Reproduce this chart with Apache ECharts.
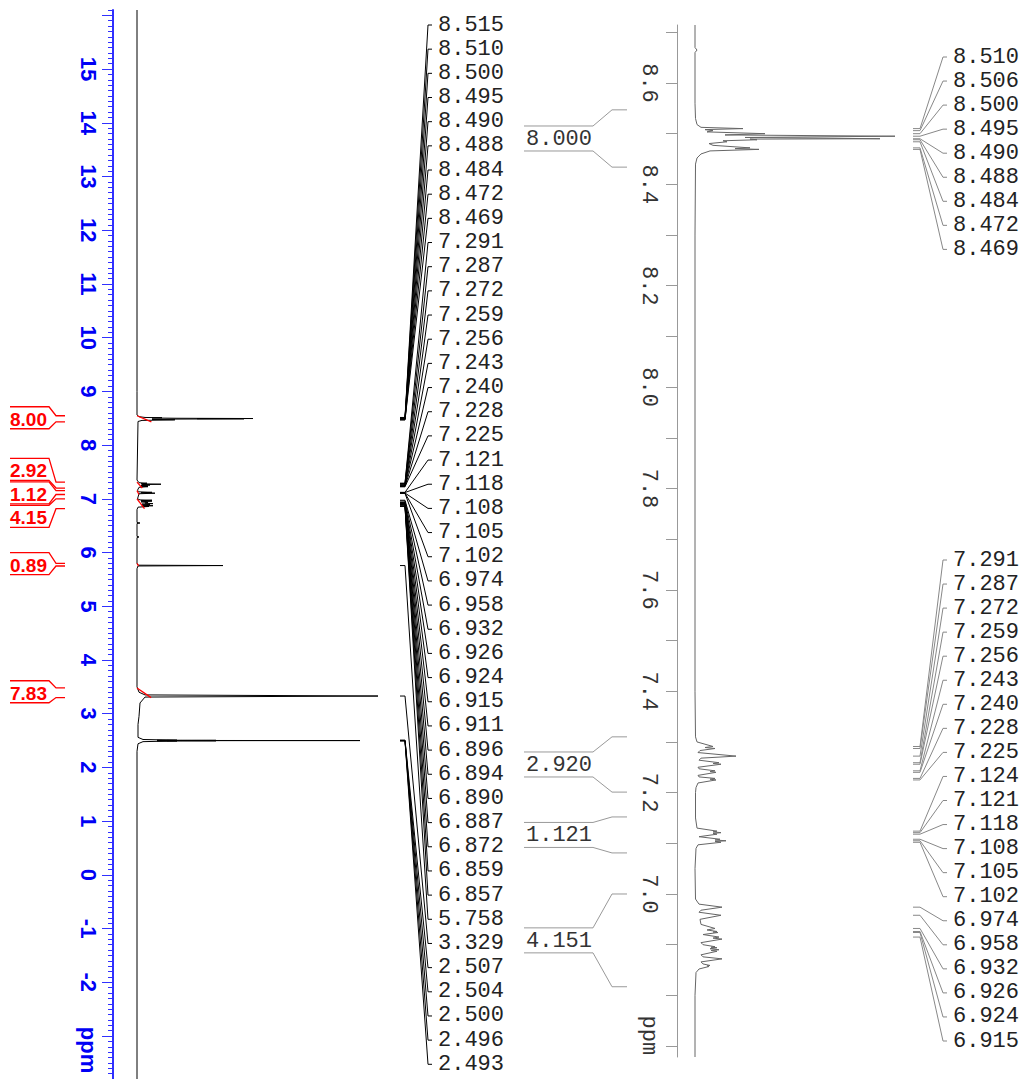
<!DOCTYPE html>
<html>
<head>
<meta charset="utf-8">
<title>1H NMR</title>
<script src="https://cdn.jsdelivr.net/npm/echarts@6/dist/echarts.min.js"></script>
<style>
    html, body { margin: 0; padding: 0; background: #fff; }
    #chart { width: 1025px; height: 1079px; }
</style>
</head>
<body>
<div id="chart"></div>
<script>
// full spectrum trace, ppm / intensity
var fullPpm = [16.1, 9.0, 8.56, 8.53, 8.515, 8.510, 8.505, 8.500, 8.495, 8.4925, 8.490, 8.484, 8.478, 8.472, 8.469, 8.46, 8.44,
    7.35, 7.30, 7.291, 7.28, 7.272, 7.265, 7.257, 7.25, 7.242, 7.235, 7.227, 7.215, 7.16, 7.13, 7.121, 7.113, 7.105, 7.095,
    7.00, 6.98, 6.974, 6.966, 6.958, 6.945, 6.93, 6.92, 6.911, 6.902, 6.892, 6.88, 6.872, 6.862, 6.858, 6.845, 6.80,
    6.56, 6.55, 6.54, 6.30, 6.29, 6.28, 5.80, 5.765, 5.758, 5.75, 5.70, 3.50, 3.40, 3.35, 3.329, 3.31, 3.20, 2.95, 2.80,
    2.56, 2.52, 2.507, 2.505, 2.504, 2.502, 2.500, 2.498, 2.496, 2.495, 2.493, 2.48, 2.44, 2.30, -3.8];
var fullInt = [0, 0, 0, 2, 8, 25, 15, 40, 116, 60, 107, 35, 15, 38, 36, 5, 1,
    0, 2, 10, 4, 24, 5, 13, 4, 11, 4, 11, 2, 0.5, 2, 15, 4, 18, 2,
    0.5, 3, 15, 4, 15, 4, 11, 8, 16, 5, 13, 5, 16, 5, 12, 1, 0,
    0, 3, 0, 0, 2, 0, 0, 1, 86, 1, 0, 0, 2, 8, 241, 8, 3, 2, 1,
    1, 6, 40, 20, 79, 30, 223, 30, 79, 20, 40, 6, 1, 0, 0];

// expansion 8.7 - 6.7 ppm
var zoomPpm = [8.7144, 8.67, 8.665, 8.66, 8.56, 8.53, 8.518, 8.5125, 8.510, 8.508, 8.506, 8.5035, 8.500, 8.4975, 8.495,
    8.4925, 8.490, 8.4893, 8.488, 8.486, 8.484, 8.4805, 8.477, 8.472, 8.4705, 8.469, 8.466, 8.460, 8.452, 8.44, 8.30,
    7.40, 7.31, 7.30, 7.291, 7.289, 7.287, 7.283, 7.279, 7.272, 7.268, 7.264, 7.259, 7.2575, 7.256, 7.250, 7.247, 7.243,
    7.2415, 7.240, 7.234, 7.231, 7.228, 7.2265, 7.225, 7.219, 7.21, 7.20, 7.15, 7.13, 7.124, 7.1225, 7.121, 7.1195, 7.118,
    7.113, 7.108, 7.1065, 7.105, 7.1035, 7.102, 7.097, 7.09, 7.05, 6.99, 6.98, 6.974, 6.968, 6.964, 6.958, 6.950, 6.940,
    6.932, 6.929, 6.926, 6.925, 6.924, 6.920, 6.915, 6.913, 6.911, 6.904, 6.900, 6.896, 6.895, 6.894, 6.892, 6.890, 6.8885,
    6.887, 6.880, 6.876, 6.872, 6.866, 6.862, 6.859, 6.858, 6.857, 6.852, 6.845, 6.80, 6.6784];
var zoomInt = [0, 0, 2, 0, 0, 0.5, 2, 6, 48, 10, 18, 12, 70, 30, 200,
    50, 185, 55, 62, 28, 32, 14, 18, 55, 40, 64, 15, 6, 2, 0.5, 0,
    0, 0.5, 2, 18, 10, 20, 5, 3, 41, 6, 4, 24, 18, 26, 3, 4, 20,
    15, 21, 3, 4, 20, 15, 21, 3, 1, 0.5, 0.5, 2, 22, 18, 26, 18, 22,
    4, 25, 20, 31, 20, 26, 3, 1, 0, 0.5, 4, 27, 6, 4, 26, 5, 6,
    20, 12, 22, 18, 23, 8, 24, 18, 27, 6, 8, 20, 16, 22, 15, 24, 16,
    22, 6, 8, 27, 6, 8, 15, 12, 14, 4, 1, 0, 0];

// integrals
var integralValues = [8.000, 2.920, 1.121, 4.151, 0.890, 7.830];
var integralFrom = [8.547, 7.310, 7.152, 7.000, 5.800, 3.480];
var integralTo = [8.434, 7.201, 7.081, 6.817, 5.750, 3.300];

// peak picking
var fullPeakLabels = [8.515, 8.510, 8.500, 8.495, 8.490, 8.488, 8.484, 8.472, 8.469,
    7.291, 7.287, 7.272, 7.259, 7.256, 7.243, 7.240, 7.228, 7.225,
    7.121, 7.118, 7.108, 7.105, 7.102,
    6.974, 6.958, 6.932, 6.926, 6.924, 6.915, 6.911, 6.896, 6.894, 6.890, 6.887, 6.872, 6.859, 6.857,
    5.758, 3.329, 2.507, 2.504, 2.500, 2.496, 2.493];
var zoomPeakLabels = [8.510, 8.506, 8.500, 8.495, 8.490, 8.488, 8.484, 8.472, 8.469,
    7.291, 7.287, 7.272, 7.259, 7.256, 7.243, 7.240, 7.228, 7.225,
    7.124, 7.121, 7.118, 7.108, 7.105, 7.102,
    6.974, 6.958, 6.932, 6.926, 6.924, 6.915];

// axis ticks
var fullMajorTicks = [-3, -2, -1, 0, 1, 2, 3, 4, 5, 6, 7, 8, 9, 10, 11, 12, 13, 14, 15, 16];
var fullTickLabels = [-3, -2, -1, 0, 1, 2, 3, 4, 5, 6, 7, 8, 9, 10, 11, 12, 13, 14, 15];
var zoomTickLabels = [6.8, 7.0, 7.2, 7.4, 7.6, 7.8, 8.0, 8.2, 8.4, 8.6];

var fullMinorTicks = [];
for (var k = -38; k <= 161; k++) {
    if (k % 10 !== 0) fullMinorTicks.push(k / 10);
}
var zoomTicks = [];
for (var j = 67; j <= 87; j++) zoomTicks.push(j / 10);

var MONO = '"Liberation Mono", "DejaVu Sans Mono", monospace';
var SANS = '"Liberation Sans", Arial, sans-serif';
var BLUE = '#0000f5';

function pairs(ys, xs) {
    return ys.map(function (y, i) { return [xs[i], y]; });
}

var series = [
    {
        type: 'line', xAxisIndex: 0, yAxisIndex: 0, data: pairs(fullPpm, fullInt),
        symbol: 'none', silent: true, lineStyle: { color: '#000', width: 1 }
    },
    {
        type: 'line', xAxisIndex: 1, yAxisIndex: 2, data: pairs(zoomPpm, zoomInt),
        symbol: 'none', silent: true, lineStyle: { color: '#666', width: 1 }
    }
];
// red integral curves on the full spectrum
integralValues.forEach(function (v, i) {
    series.push({
        type: 'line', xAxisIndex: 0, yAxisIndex: 0,
        data: [[0, integralFrom[i]], [v * 1.8, integralTo[i]]],
        symbol: 'none', silent: true, lineStyle: { color: '#ff0000', width: 1.3 }
    });
});

var option = {
    animation: false,
    backgroundColor: '#fff',
    grid: [
        { left: 137, top: 10, width: 260, height: 1069, containLabel: false, outerBoundsMode: 'none' },
        { left: 695, top: 25, width: 300, height: 1032, containLabel: false, outerBoundsMode: 'none' }
    ],
    xAxis: [
        { gridIndex: 0, type: 'value', min: 0, max: 260, show: false },
        { gridIndex: 1, type: 'value', min: 0, max: 300, show: false }
    ],
    yAxis: [
        {
            gridIndex: 0, type: 'value', min: -3.8, max: 16.1, position: 'left', offset: 24,
            axisLine: { show: true, onZero: false, lineStyle: { color: '#3030ff', width: 2 } },
            axisTick: { show: true, customValues: fullMajorTicks, length: 11, lineStyle: { color: '#3030ff', width: 1 } },
            axisLabel: {
                show: true, customValues: fullTickLabels, rotate: -90, margin: 14,
                color: BLUE, fontFamily: SANS, fontWeight: 'bold', fontSize: 22,
                formatter: function (v) { return v === -3 ? '{p|ppm}' : String(v); },
                rich: { p: { color: BLUE, fontFamily: SANS, fontWeight: 'bold', fontSize: 22, padding: [0, 0, 0, 28] } }
            },
            splitLine: { show: false }
        },
        {
            gridIndex: 0, type: 'value', min: -3.8, max: 16.1, position: 'left', offset: 24,
            axisLine: { show: false, onZero: false },
            axisTick: { show: true, customValues: fullMinorTicks, length: 5, lineStyle: { color: '#3030ff', width: 1 } },
            axisLabel: { show: false },
            splitLine: { show: false }
        },
        {
            gridIndex: 1, type: 'value', min: 6.6784, max: 8.7144, position: 'left', offset: 18,
            axisLine: { show: true, onZero: false, lineStyle: { color: '#999', width: 1 } },
            axisTick: { show: true, customValues: zoomTicks, length: 11, lineStyle: { color: '#999', width: 1 } },
            axisLabel: {
                show: true, customValues: zoomTickLabels, rotate: -90, margin: 18,
                color: '#333', fontFamily: MONO, fontSize: 22,
                formatter: function (v) { return Math.abs(v - 6.8) < 1e-6 ? '{p|ppm}' : v.toFixed(1); },
                rich: { p: { color: '#333', fontFamily: MONO, fontSize: 22, padding: [0, 0, 0, 80] } }
            },
            splitLine: { show: false }
        }
    ],
    series: series
};

var chart = echarts.init(document.getElementById('chart'), null, { renderer: 'svg' });
chart.setOption(option);

function py(axisIndex, ppm) {
    return chart.convertToPixel({ yAxisIndex: axisIndex }, ppm);
}

// push labels apart so they keep a fixed pitch, staying inside [lo, hi]
function spreadLabels(targets, gap, lo, hi) {
    var blocks = targets.map(function (t) { return { sum: t, n: 1, top: t }; });
    function place(b) {
        b.top = b.sum / b.n - (b.n - 1) * gap / 2;
        b.top = Math.max(lo, Math.min(hi - (b.n - 1) * gap, b.top));
    }
    blocks.forEach(place);
    var merged = true;
    while (merged) {
        merged = false;
        for (var i = 0; i < blocks.length - 1; i++) {
            var a = blocks[i], b = blocks[i + 1];
            if (a.top + a.n * gap > b.top + 0.01) {
                a.sum += b.sum;
                a.n += b.n;
                place(a);
                blocks.splice(i + 1, 1);
                merged = true;
                break;
            }
        }
    }
    var out = [];
    blocks.forEach(function (b) {
        for (var n = 0; n < b.n; n++) out.push(b.top + n * gap);
    });
    return out;
}

function txt(x, y, s, font, fill) {
    return {
        type: 'text', x: x, y: y, silent: true,
        style: { text: s, font: font, fill: fill, textAlign: 'left', align: 'left', textVerticalAlign: 'middle', verticalAlign: 'middle' }
    };
}
function poly(points, stroke, width) {
    return { type: 'polyline', silent: true, shape: { points: points }, style: { stroke: stroke, lineWidth: width, fill: null } };
}

var graphics = [];

// peak labels of the full spectrum
var fullPeakY = fullPeakLabels.map(function (p) { return py(0, p); });
var fullLabelY = spreadLabels(fullPeakY, 24.17, 25, 1064);
fullPeakLabels.forEach(function (p, i) {
    graphics.push(poly([[432, fullLabelY[i]], [428, fullLabelY[i]], [405, fullPeakY[i]], [400, fullPeakY[i]]], '#000', 1));
    graphics.push(txt(438, fullLabelY[i], p.toFixed(3), '22px ' + MONO, '#222'));
});

// peak labels of the expansion
var zoomPeakY = zoomPeakLabels.map(function (p) { return py(2, p); });
var zoomLabelY = spreadLabels(zoomPeakY, 24.05, 57, 1041);
zoomPeakLabels.forEach(function (p, i) {
    graphics.push(poly([[947, zoomLabelY[i]], [943, zoomLabelY[i]], [920, zoomPeakY[i]], [913, zoomPeakY[i]]], '#888', 1));
    graphics.push(txt(953, zoomLabelY[i], p.toFixed(3), '22px ' + MONO, '#222'));
});

// red integral labels on the full spectrum
var redFrom = integralFrom.map(function (p) { return py(0, p); });
var redTo = integralTo.map(function (p) { return py(0, p); });
var redMid = redFrom.map(function (y, i) { return (y + redTo[i]) / 2; });
var redY = spreadLabels(redMid, 23.5, 0, 1079);
integralValues.forEach(function (v, i) {
    var y = redY[i];
    graphics.push(poly([[10, y - 12], [49, y - 12], [56, redFrom[i]], [65, redFrom[i]]], '#ff0000', 1.3));
    graphics.push(poly([[10, y + 10], [49, y + 10], [56, redTo[i]], [65, redTo[i]]], '#ff0000', 1.3));
    graphics.push(txt(10, y + 0.5, v.toFixed(2), 'bold 19px ' + SANS, '#ff0000'));
});

// grey integral labels beside the expansion
var zoomMin = 6.6784, zoomMax = 8.7144;
integralValues.forEach(function (v, i) {
    if (integralTo[i] < zoomMin || integralFrom[i] > zoomMax) return;
    var ys = py(2, integralFrom[i]), ye = py(2, integralTo[i]);
    var c = (ys + ye) / 2;
    graphics.push(poly([[524, c - 12.5], [593, c - 12.5], [612, ys], [627, ys]], '#999', 1));
    graphics.push(poly([[524, c + 12.5], [593, c + 12.5], [612, ye], [627, ye]], '#999', 1));
    graphics.push(txt(526, c + 1, v.toFixed(3), '22px ' + MONO, '#333'));
});

chart.setOption({ graphic: graphics });
</script>
</body>
</html>
